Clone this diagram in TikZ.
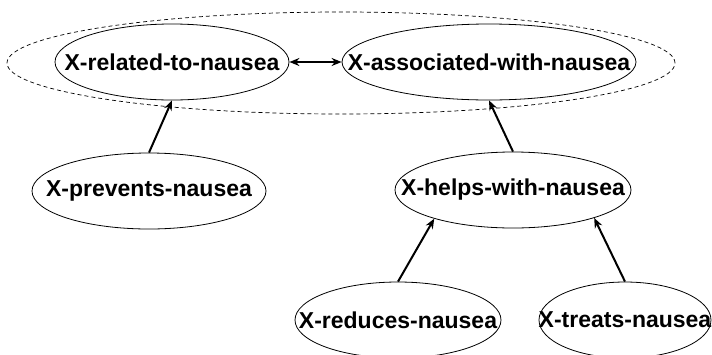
\documentclass[tikz,border=0pt]{standalone}
\usepackage{fontspec}
\setmainfont{Liberation Sans}
\usetikzlibrary{shapes.geometric,arrows.meta}
\newcommand{\ctr}[1]{\makebox[0pt]{#1}}

\begin{document}
\begin{tikzpicture}[x=1pt,y=-1pt,
  ell/.style={draw, ellipse, line width=0.8pt, inner sep=0pt, minimum height=76pt,
    font=\fontsize{23}{27}\selectfont\bfseries},
  arr/.style={line width=2pt, -{Stealth[length=10pt,width=8pt]}},
  darr/.style={line width=2pt, {Stealth[length=10pt,width=8pt]}-{Stealth[length=10pt,width=8pt]}}]
\useasboundingbox (0,0) rectangle (712,354);
\node[draw, ellipse, line width=0.7pt, dash pattern=on 4pt off 3pt,
  minimum width=668pt, minimum height=102pt] (grp) at (341,63) {};
\node[ell, minimum width=234pt] (rel) at (172,62) {\ctr{X-related-to-nausea}};
\node[ell, minimum width=294pt] (assoc) at (489,62) {\ctr{X-associated-with-nausea}};
\node[ell, minimum width=234pt] (prev) at (149,191) {\ctr{X-prevents-nausea}};
\node[ell, minimum width=236pt] (helps) at (513,190) {\ctr{X-helps-with-nausea}};
\node[ell, minimum width=206pt] (red) at (398,320) {\ctr{X-reduces-nausea}};
\node[ell, minimum width=172pt] (treat) at (625,320) {\ctr{X-treats-nausea}};
\path[draw,darr] (rel) -- (assoc);
\path[draw,arr] (prev.north) -- (rel.south);
\path[draw,arr] (helps.north) -- (assoc.south);
\path[draw,arr] (red.north) -- (helps.200);
\path[draw,arr] (treat.north) -- (helps.341);
\end{tikzpicture}
\end{document}
